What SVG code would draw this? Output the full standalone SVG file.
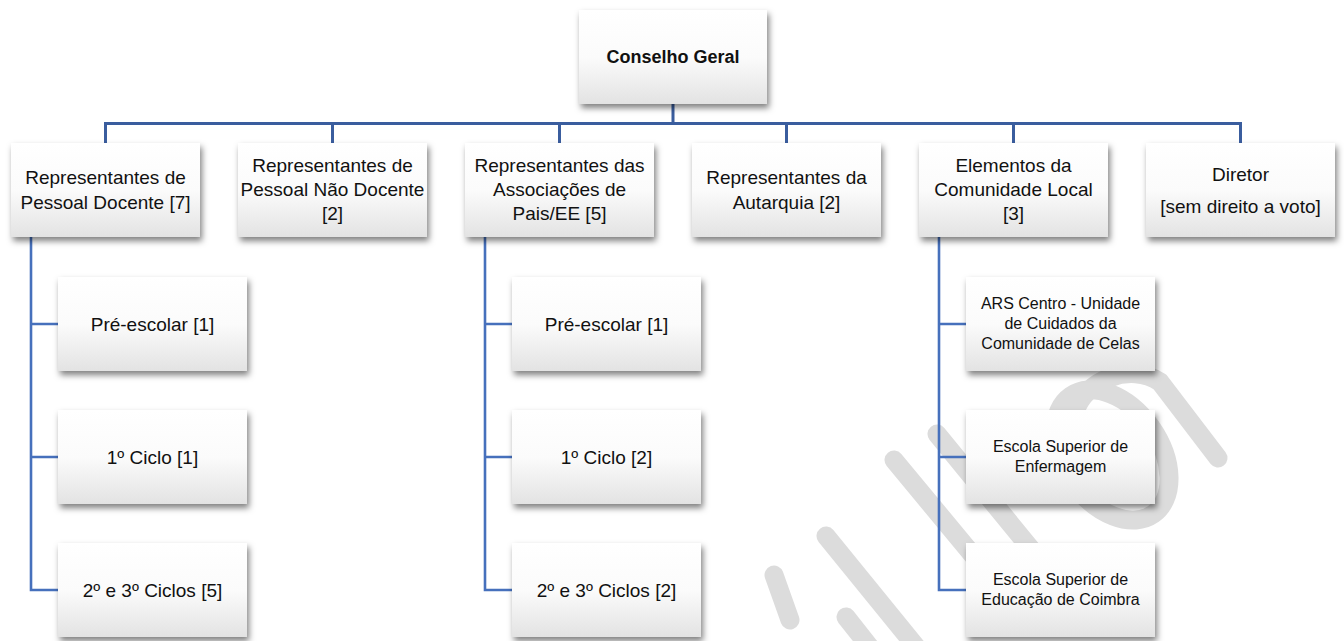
<svg xmlns="http://www.w3.org/2000/svg" width="1344" height="641" viewBox="0 0 1344 641">
<style>
  .box { fill: url(#g); filter: url(#sh); }
  .t { font-family: "Liberation Sans", Arial, sans-serif; fill: #111; text-anchor: middle; }
  .l1 { font-size: 19px; }
  .l2s { font-size: 16px; }
  .top { font-size: 18px; font-weight: bold; }
  .c1 { fill: none; stroke: #3A5D9E; stroke-width: 3; }
  .c2 { fill: none; stroke: #4670BC; stroke-width: 2.6; }
  .wm { fill: none; stroke: #dcdcdc; stroke-width: 19; stroke-linecap: round; }
</style>
<defs>
  <linearGradient id="g" x1="0" y1="0" x2="0" y2="1">
    <stop offset="0" stop-color="#ffffff"/>
    <stop offset="0.5" stop-color="#fbfbfb"/>
    <stop offset="1" stop-color="#e3e3e3"/>
  </linearGradient>
  <filter id="sh" x="-10%" y="-10%" width="125%" height="135%">
    <feDropShadow dx="2" dy="4" stdDeviation="3" flood-color="#000" flood-opacity="0.5"/>
  </filter>
</defs>
<rect width="1344" height="641" fill="#ffffff"/>
<g id="watermark">
  <line class="wm" x1="774" y1="575" x2="790" y2="620"/>
  <line class="wm" x1="826" y1="536" x2="935" y2="670"/>
  <line class="wm" x1="846" y1="617" x2="880" y2="660"/>
  <line class="wm" x1="894" y1="460" x2="1010" y2="600"/>
  <line class="wm" x1="937" y1="434" x2="1040" y2="560"/>
  <path class="wm" d="M1075,412 C1085,380 1130,362 1160,382 L1218,458"/>
  <ellipse class="wm" cx="1112" cy="455" rx="48" ry="72" transform="rotate(-35 1112 455)"/>
</g>
<g id="connectors">
  <path class="c1" d="M673,104 V123.5 M105.5,123.5 H1240.5 M105.5,122 V143 M332.5,122 V143 M559.5,122 V143 M786.5,122 V143 M1013.5,122 V143 M1240.5,122 V143"/>
  <path class="c2" d="M31,237 V590 H58 M31,324 H58 M31,457 H58"/>
  <path class="c2" d="M485,237 V590 H512 M485,324 H512 M485,457 H512"/>
  <path class="c2" d="M939,237 V590 H966 M939,324 H966 M939,457 H966"/>
</g>
<g id="n-conselho">
  <rect class="box" x="579" y="10" width="188" height="94"/>
  <text class="t top" x="673" y="63">Conselho Geral</text>
</g>
<g id="n-docente">
  <rect class="box" x="11" y="143" width="189" height="94"/>
  <text class="t l1" x="105.5" y="184">Representantes de</text>
  <text class="t l1" x="105.5" y="209">Pessoal Docente [7]</text>
</g>
<g id="n-naodocente">
  <rect class="box" x="238" y="143" width="189" height="94"/>
  <text class="t l1" x="332.5" y="172">Representantes de</text>
  <text class="t l1" x="332.5" y="196">Pessoal Não Docente</text>
  <text class="t l1" x="332.5" y="220">[2]</text>
</g>
<g id="n-pais">
  <rect class="box" x="465" y="143" width="189" height="94"/>
  <text class="t l1" x="559.5" y="172">Representantes das</text>
  <text class="t l1" x="559.5" y="196">Associações de</text>
  <text class="t l1" x="559.5" y="220">Pais/EE [5]</text>
</g>
<g id="n-autarquia">
  <rect class="box" x="692" y="143" width="189" height="94"/>
  <text class="t l1" x="786.5" y="184">Representantes da</text>
  <text class="t l1" x="786.5" y="209">Autarquia [2]</text>
</g>
<g id="n-comunidade">
  <rect class="box" x="919" y="143" width="189" height="94"/>
  <text class="t l1" x="1013.5" y="172">Elementos da</text>
  <text class="t l1" x="1013.5" y="196">Comunidade Local</text>
  <text class="t l1" x="1013.5" y="220">[3]</text>
</g>
<g id="n-diretor">
  <rect class="box" x="1146" y="143" width="189" height="94"/>
  <text class="t l1" x="1240.5" y="181">Diretor</text>
  <text class="t l1" x="1240.5" y="213">[sem direito a voto]</text>
</g>
<g id="n-d-pre">
  <rect class="box" x="58" y="277" width="189" height="94"/>
  <text class="t l1" x="152.5" y="331">Pré-escolar [1]</text>
</g>
<g id="n-d-1c">
  <rect class="box" x="58" y="410" width="189" height="94"/>
  <text class="t l1" x="152.5" y="464">1º Ciclo [1]</text>
</g>
<g id="n-d-23c">
  <rect class="box" x="58" y="543" width="189" height="94"/>
  <text class="t l1" x="152.5" y="597">2º e 3º Ciclos [5]</text>
</g>
<g id="n-p-pre">
  <rect class="box" x="512" y="277" width="189" height="94"/>
  <text class="t l1" x="606.5" y="331">Pré-escolar [1]</text>
</g>
<g id="n-p-1c">
  <rect class="box" x="512" y="410" width="189" height="94"/>
  <text class="t l1" x="606.5" y="464">1º Ciclo [2]</text>
</g>
<g id="n-p-23c">
  <rect class="box" x="512" y="543" width="189" height="94"/>
  <text class="t l1" x="606.5" y="597">2º e 3º Ciclos [2]</text>
</g>
<g id="n-ars">
  <rect class="box" x="966" y="277" width="189" height="94"/>
  <text class="t l2s" x="1060.5" y="309">ARS Centro - Unidade</text>
  <text class="t l2s" x="1060.5" y="329">de Cuidados da</text>
  <text class="t l2s" x="1060.5" y="349">Comunidade de Celas</text>
</g>
<g id="n-enf">
  <rect class="box" x="966" y="410" width="189" height="94"/>
  <text class="t l2s" x="1060.5" y="452">Escola Superior de</text>
  <text class="t l2s" x="1060.5" y="472">Enfermagem</text>
</g>
<g id="n-edu">
  <rect class="box" x="966" y="543" width="189" height="94"/>
  <text class="t l2s" x="1060.5" y="585">Escola Superior de</text>
  <text class="t l2s" x="1060.5" y="605">Educação de Coimbra</text>
</g>
</svg>
